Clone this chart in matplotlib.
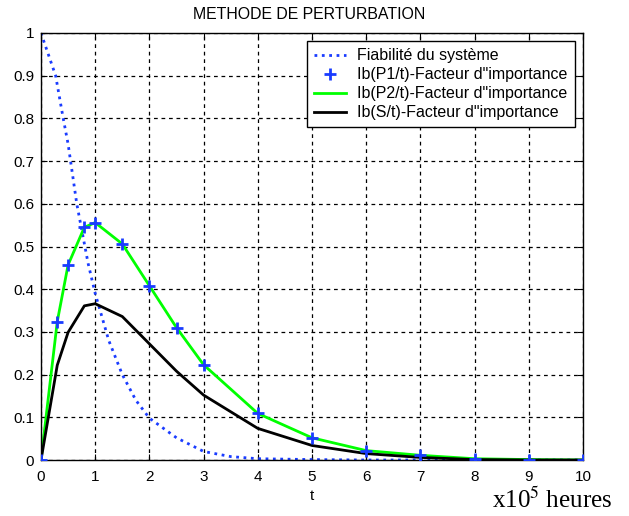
import matplotlib
matplotlib.use("Agg")
import matplotlib.pyplot as plt

# Data
t_rel = [0, 0.27, 0.41, 0.5, 0.66, 0.75, 0.87, 1.0, 1.25, 1.5, 1.75, 2.0, 2.5, 3.0, 3.5, 4, 5, 6, 7, 8, 9, 10]
fiabilite = [1.0, 0.9, 0.8, 0.74, 0.60, 0.54, 0.46, 0.39, 0.28, 0.2, 0.14, 0.098, 0.052, 0.02, 0.008, 0.003, 0.001, 0, 0, 0, 0, 0]

t = [0, 0.3, 0.5, 0.8, 1, 1.5, 2, 2.5, 3, 4, 5, 6, 7, 8, 9, 10]
ib_p1 = [0, 0.324, 0.457, 0.545, 0.556, 0.506, 0.408, 0.31, 0.223, 0.109, 0.052, 0.022, 0.011, 0.003, 0.001, 0]
ib_p2 = [0, 0.324, 0.457, 0.545, 0.556, 0.506, 0.408, 0.31, 0.223, 0.109, 0.052, 0.022, 0.011, 0.003, 0.001, 0]
ib_s = [0, 0.222, 0.299, 0.361, 0.366, 0.336, 0.272, 0.208, 0.152, 0.074, 0.034, 0.015, 0.006, 0.001, 0, 0]

labels = ["Fiabilit\u00e9 du syst\u00e8me",
          "Ib(P1/t)-Facteur d\"importance",
          "Ib(P2/t)-Facteur d\"importance",
          "Ib(S/t)-Facteur d\"importance"]
xticks = list(range(0, 11))
yticks = [i / 10 for i in range(0, 11)]
yticklabels = ["0", "0.1", "0.2", "0.3", "0.4", "0.5", "0.6", "0.7", "0.8", "0.9", "1"]

plt.rcParams['font.family'] = ['Liberation Sans', 'DejaVu Sans']
plt.rcParams['mathtext.fontset'] = 'stix'

fig = plt.figure(figsize=(6.29, 5.16), dpi=100)
ax = fig.add_axes([41/629, 1-460/516, (583-41)/629, (460-33)/516])

ax.plot(t_rel, fiabilite, linestyle=':', color='#1a3cff', linewidth=2, label=labels[0])
ax.plot(t, ib_p1, linestyle='none', marker='+', color='#1a3cff', markersize=9, markeredgewidth=2, label=labels[1], zorder=4)
ax.plot(t, ib_p2, color='#00ff00', linewidth=2, label=labels[2])
ax.plot(t, ib_s, color='black', linewidth=2, label=labels[3])

ax.set_xlim(0, 10)
ax.set_ylim(0, 1)
ax.set_xticks(xticks)
ax.set_xticklabels([str(v) for v in xticks])
ax.set_yticks(yticks)
ax.set_yticklabels(yticklabels)
ax.tick_params(direction='in', top=True, right=True, labelsize=11, length=4)
ax.tick_params(axis='x', pad=7)
ax.tick_params(axis='y', pad=5)
ax.grid(True, color='black', linestyle=(0, (3, 3)), linewidth=0.9)
for s in ax.spines.values():
    s.set_linewidth(1)

ax.set_title("METHODE DE PERTURBATION", fontsize=11.4, pad=10, x=0.495)
ax.set_xlabel("t", fontsize=11, labelpad=4)

leg = ax.legend(loc='upper right', fontsize=11.5, frameon=True, fancybox=False,
                edgecolor='black', framealpha=1, borderaxespad=0.5,
                handlelength=2.0, labelspacing=0.25, borderpad=0.45, handletextpad=0.7)
leg.get_frame().set_linewidth(1)

fig.text(492/629, 1-508/516, r"x10$^5$ heures", fontsize=18, family='Liberation Serif', va='baseline', ha='left')

fig.savefig("out.png", dpi=100)
